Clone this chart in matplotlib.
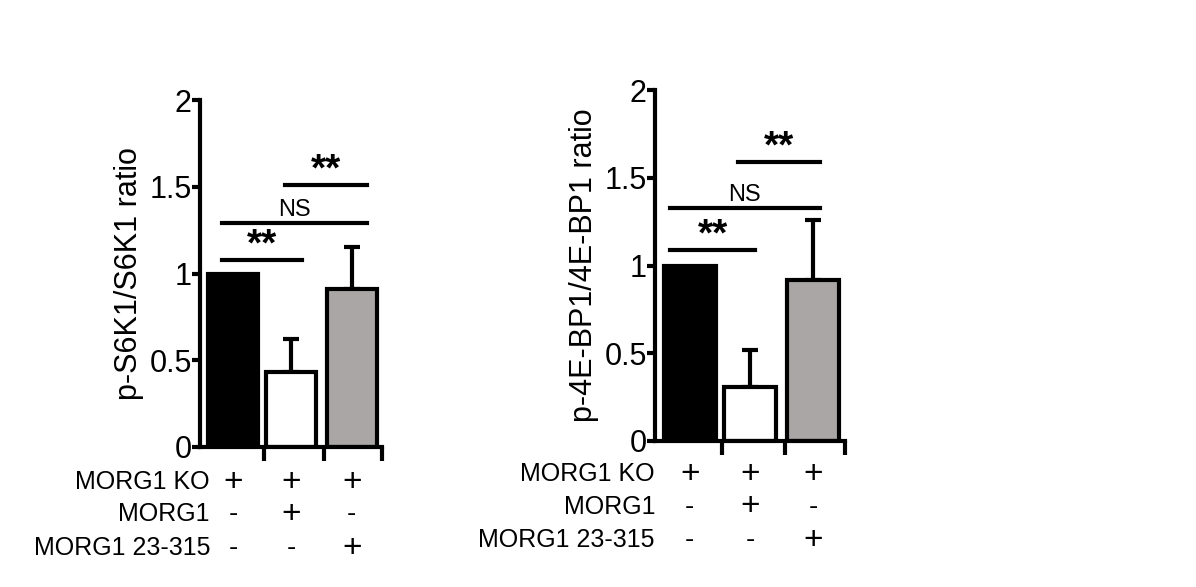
import matplotlib
matplotlib.use("Agg")
import matplotlib.pyplot as plt

plt.rcParams['font.family'] = 'Liberation Sans'

positions = [0.55, 1.5, 2.5]
colors = ['black', 'white', '#aaa6a6']
left_vals = [1.0, 0.43, 0.91]
left_err = [0.0, 0.19, 0.24]
right_vals = [1.0, 0.31, 0.92]
right_err = [0.0, 0.21, 0.34]
ytick_vals = [0, 0.5, 1, 1.5, 2]
ytick_labels = ['0', '0.5', '1', '1.5', '2']
row_names = ['MORG1 KO', 'MORG1', 'MORG1 23-315']
row_signs = [['+', '+', '+'], ['-', '+', '-'], ['-', '-', '+']]
left_sig = [((0.36, 1.68), 1.08, '**'), ((0.36, 2.75), 1.29, 'NS'), ((1.40, 2.75), 1.51, '**')]
right_sig = [((0.24, 1.58), 1.09, '**'), ((0.24, 2.6), 1.33, 'NS'), ((1.31, 2.6), 1.59, '**')]

fig = plt.figure(figsize=(11.96, 5.87), dpi=100)

def panel(rect, vals, errs, sig, ylabel, label_x, row_y):
    ax = fig.add_axes(rect)
    ax.bar(positions, vals, width=0.82, color=colors, edgecolor='black', linewidth=3, zorder=2)
    for p, v, e in zip(positions, vals, errs):
        if e > 0:
            ax.errorbar([p], [v], yerr=[[0], [e]], color='black', capsize=6, capthick=3, elinewidth=3, zorder=1)
    ax.set_xlim(0, 3)
    ax.set_ylim(0, 2)
    ax.set_yticks(ytick_vals)
    ax.set_yticklabels(ytick_labels, fontsize=22)
    ax.set_xticks([1.05, 2.05, 3.0])
    ax.set_xticklabels([])
    ax.tick_params(axis='x', direction='out', length=10, width=3)
    ax.tick_params(axis='y', direction='out', length=6, width=3, pad=0)
    for s in ['top', 'right']:
        ax.spines[s].set_visible(False)
    for s in ['left', 'bottom']:
        ax.spines[s].set_linewidth(3)
    ax.set_ylabel(ylabel, fontsize=22, labelpad=4)
    for (x1, x2), y, t in sig:
        ax.plot([x1, x2], [y, y], color='black', lw=3, clip_on=False)
        if t == '**':
            ax.text((x1 + x2) / 2, y - 0.02, t, ha='center', va='bottom', fontsize=28, fontweight='bold')
        else:
            ax.text((x1 + x2) / 2, y + 0.01, t, ha='center', va='bottom', fontsize=17)
    for i, name in enumerate(row_names):
        fig.text(label_x, row_y[i], name, ha='right', va='center', fontsize=18)
        for p, sgn in zip(positions, row_signs[i]):
            xf = rect[0] + rect[2] * p / 3
            fig.text(xf, row_y[i], sgn, ha='center', va='center', fontsize=24 if sgn == '+' else 20)
    return ax

panel([200/1196, 140/587, 182/1196, 347/587], left_vals, left_err, left_sig,
      'p-S6K1/S6K1 ratio', 210/1196, [1 - 482/587, 1 - 514/587, 1 - 548/587])
panel([655/1196, 146/587, 190/1196, 351/587], right_vals, right_err, right_sig,
      'p-4E-BP1/4E-BP1 ratio', 655/1196, [1 - 474/587, 1 - 507/587, 1 - 540/587])

fig.savefig('out.png', dpi=100)
